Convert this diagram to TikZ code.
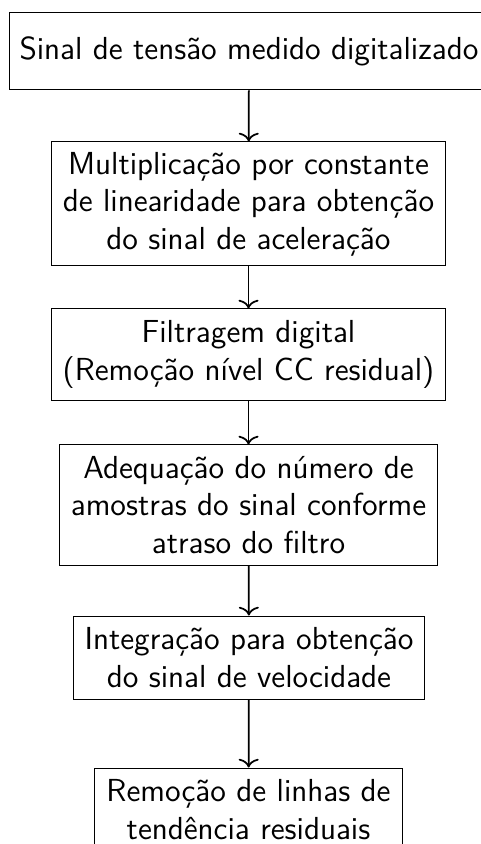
\documentclass[tikz,border=0pt]{standalone}
\usepackage{fontspec}
\usepackage{tikz}
\usetikzlibrary{arrows.meta}

\tikzset{
  etapa/.style={draw, align=center, inner sep=1pt, font=\sffamily\fontsize{12.75}{15}\selectfont},
  seta/.style={-{To[length=3.5pt,width=8pt]}, line width=0.7pt}
}

\begin{document}
\begin{tikzpicture}[x=0.4pt, y=-0.4pt]
        \useasboundingbox (0,0) rectangle (480,844);
        % etapas do processamento
        \node[etapa, minimum width=191.2pt, minimum height=30.8pt] (sinal) at (249,51.5) {Sinal de tensão medido digitalizado};
        \node[etapa, minimum width=157.2pt, minimum height=49.6pt] (mult) at (248.5,204) {Multiplicação por constante\\de linearidade para obtenção\\do sinal de aceleração};
        \node[etapa, minimum width=157.2pt, minimum height=36.4pt] (filtro) at (248.5,354.5) {Filtragem digital\\(Remoção nível CC residual)};
        \node[etapa, minimum width=150.8pt, minimum height=48pt] (atraso) at (248.5,505) {Adequação do número de\\amostras do sinal conforme\\atraso do filtro};
        \node[etapa, minimum width=140pt, minimum height=33.2pt] (integ) at (249,657.5) {Integração para obtenção\\do sinal de velocidade};
        \node[etapa, minimum width=122.8pt, minimum height=33.2pt] (tend) at (248.5,809.5) {Remoção de linhas de\\tendência residuais};
        % setas
        \draw[seta] (sinal) -- (mult);
        \draw[seta] (mult) -- (filtro);
        \draw[seta] (filtro) -- (atraso);
        \draw[seta] (atraso) -- (integ);
        \draw[seta] (integ) -- (tend);
\end{tikzpicture}
\end{document}
